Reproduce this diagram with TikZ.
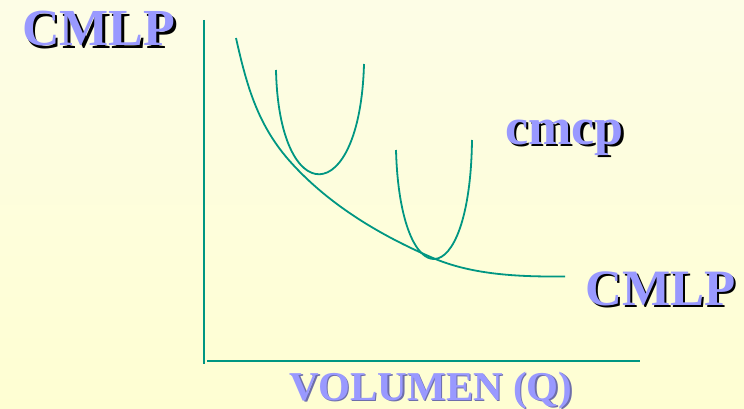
\documentclass[tikz,border=0pt]{standalone}
\usepackage{fontspec}
\setmainfont{Liberation Serif}
\definecolor{bgtop}{RGB}{253,253,230}
\definecolor{bgbot}{RGB}{254,254,210}
\definecolor{teal2}{RGB}{0,150,130}
\definecolor{lav}{RGB}{153,153,255}
\definecolor{lavshadow}{RGB}{110,110,170}
\begin{document}
\begin{tikzpicture}[x=1pt,y=-1pt,
  curve/.style={draw=teal2,line width=1.8pt},
  axis/.style={draw=teal2,line width=2pt},
  big/.style={font=\bfseries\fontsize{52}{52}\selectfont,inner sep=0pt,anchor=base west},
  right/.style={font=\bfseries\fontsize{51}{51}\selectfont,inner sep=0pt,anchor=base west},
  mid/.style={font=\bfseries\fontsize{41}{41}\selectfont,inner sep=0pt,anchor=base west},
  shadowtxt/.style={text=black},
  maintxt/.style={text=lav}]
\shade[top color=bgtop,bottom color=bgbot] (0,0) rectangle (744,409);
\useasboundingbox (0,0) rectangle (744,409);
% axes
\coordinate (ytop) at (204,20);
\coordinate (ybot) at (204,364);
\coordinate (xl) at (207,360.5);
\coordinate (xr) at (640,360.5);
\draw[axis] (ytop) -- (ybot);
\draw[axis] (xl) -- (xr);
% long-run average cost curve
\coordinate (c0) at (236,38);
\coordinate (c1) at (291.7,163.3);
\coordinate (c2) at (433,258);
\coordinate (c3) at (565,276.5);
\draw[curve] (c0) .. controls (247,87) and (258,126.3) .. (c1)
  .. controls (330.1,205.5) and (380.6,235.5) .. (c2)
  .. controls (473.4,275.3) and (521,276.8) .. (c3);
% short-run curves
\coordinate (u1s) at (276,70);
\coordinate (u1e) at (364,64);
\draw[curve] (u1s) .. controls (279,210) and (360,210) .. (u1e);
\coordinate (u2s) at (396,150);
\coordinate (u2e) at (472,140);
\draw[curve] (u2s) .. controls (400,297) and (470,297) .. (u2e);
% labels
\node[big,shadowtxt] (t1s) at (24.5,48.5) {CMLP};
\node[big,maintxt] (t1) at (22,46) {CMLP};
\node[big,shadowtxt] (t2s) at (507.5,146.5) {cmcp};
\node[big,maintxt] (t2) at (505,144) {cmcp};
\node[right,shadowtxt] (t3s) at (587.5,307.5) {CMLP};
\node[right,maintxt] (t3) at (585,305) {CMLP};
\node[mid,text=lavshadow] (t4s) at (290.8,401.3) {VOLUMEN (Q)};
\node[mid,maintxt] (t4) at (289.5,400) {VOLUMEN (Q)};
\end{tikzpicture}
\end{document}
